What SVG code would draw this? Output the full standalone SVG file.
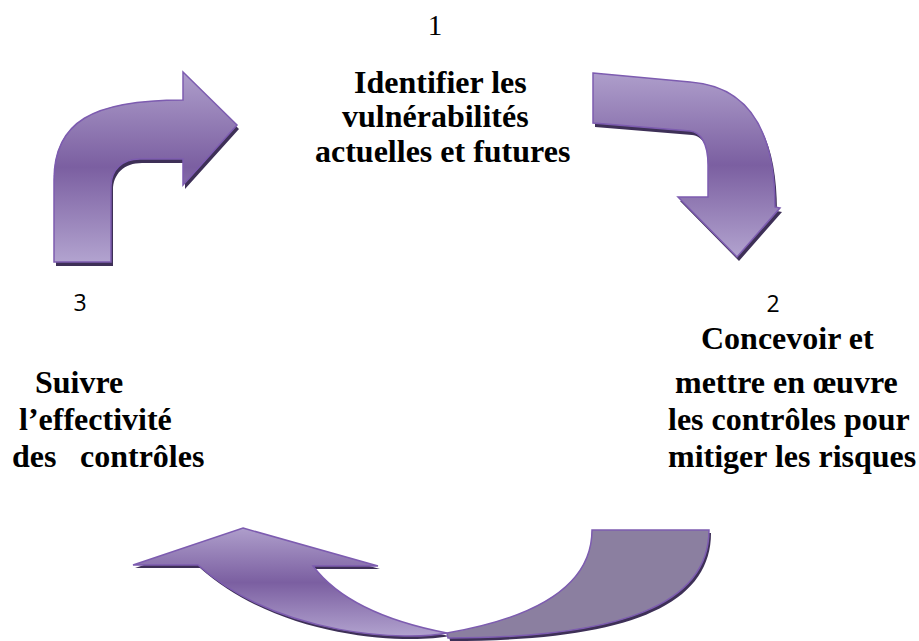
<svg xmlns="http://www.w3.org/2000/svg" xmlns:xlink="http://www.w3.org/1999/xlink" width="919" height="641" viewBox="0 0 919 641">
<style>
.t{font-family:"Liberation Serif","Times New Roman",serif;font-weight:bold;font-size:32px;fill:#000}
.n{font-family:"Open Sans","Liberation Sans",sans-serif;font-size:23px;fill:#000}
.nr{font-family:"Liberation Serif","Times New Roman",serif;font-size:29px;fill:#000}
.ar{stroke:#7d5cb0;stroke-width:1.5;stroke-linejoin:miter}
.sh{fill:#3e3057}
</style>
<defs>
<linearGradient id="g1" gradientUnits="userSpaceOnUse" x1="0" y1="72" x2="0" y2="262">
<stop offset="0" stop-color="#ae9ecb"/><stop offset="0.5" stop-color="#7b5fa1"/><stop offset="1" stop-color="#b2a3cf"/>
</linearGradient>
<linearGradient id="g2" gradientUnits="userSpaceOnUse" x1="0" y1="73" x2="0" y2="257">
<stop offset="0" stop-color="#ae9ecb"/><stop offset="0.5" stop-color="#7b5fa1"/><stop offset="1" stop-color="#b2a3cf"/>
</linearGradient>
<linearGradient id="g3" gradientUnits="userSpaceOnUse" x1="0" y1="528" x2="0" y2="637">
<stop offset="0" stop-color="#ae9ecb"/><stop offset="0.5" stop-color="#7b5fa1"/><stop offset="1" stop-color="#b2a3cf"/>
</linearGradient>
<path id="p1" d="M54,262 L54,180 C54,122 92,100 183,100 L183,72 L237,125 L183,185 L183,159 L140,159 C122,159 111,170 111,186 L111,262 Z"/>
<path id="p2" d="M593,73 L690,82 C745,86 775,125 775,207 L780,208 L737,257 L678,197 L708,197 L708,165 C708,142 700,132 690,131 L593,123 Z"/>
<path id="p3a" d="M243,528 L378,566 L313,566 C340,602 390,622 447,633 C410,641 280,638 198,565 L133,565 Z"/>
<path id="p3b" d="M592,530 L709,530 C709,605 620,638 448,638 L447,633 C522,620 592,592 592,530 Z"/>
</defs>
<g id="connectors">
<g id="arrow-3-to-1">
<use xlink:href="#p1" class="sh" transform="translate(2,4)"/>
<use xlink:href="#p1" class="ar" fill="url(#g1)"/>
</g>
<g id="arrow-1-to-2">
<use xlink:href="#p2" class="sh" transform="translate(2,4)"/>
<use xlink:href="#p2" class="ar" fill="url(#g2)"/>
</g>
<g id="arrow-2-to-3">
<use xlink:href="#p3b" class="sh" transform="translate(2,3)"/>
<use xlink:href="#p3a" class="sh" transform="translate(2,3)"/>
<use xlink:href="#p3b" class="ar" fill="#8b7fa0"/>
<use xlink:href="#p3a" class="ar" fill="url(#g3)"/>
</g>
</g>
<g id="node-1">
<text class="nr" x="435" y="35" text-anchor="middle">1</text>
<text class="t" x="354" y="93">Identifier les</text>
<text class="t" x="342" y="127">vulnérabilités</text>
<text class="t" x="315" y="162">actuelles et futures</text>
</g>
<g id="node-2">
<text class="n" x="773" y="312" text-anchor="middle">2</text>
<text class="t" x="701" y="349">Concevoir et</text>
<text class="t" x="675" y="393">mettre en œuvre</text>
<text class="t" x="668" y="430">les contrôles pour</text>
<text class="t" x="668" y="467">mitiger les risques</text>
</g>
<g id="node-3">
<text class="n" x="80" y="311" text-anchor="middle">3</text>
<text class="t" x="35" y="393">Suivre</text>
<text class="t" x="19" y="430">l’effectivité</text>
<text class="t" x="12" y="467">des</text>
<text class="t" x="80" y="467">contrôles</text>
</g>
</svg>
